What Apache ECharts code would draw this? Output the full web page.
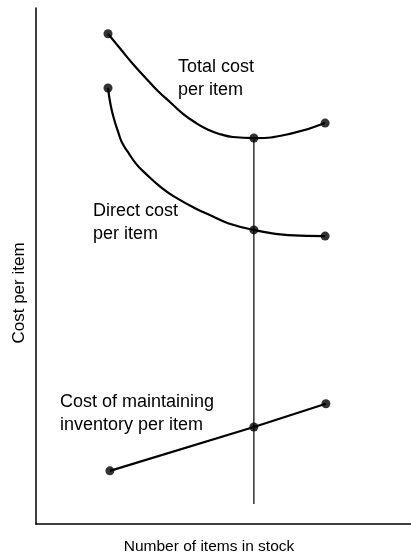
<!DOCTYPE html>
<html>
<head>
<meta charset="utf-8">
<style>
  html, body { margin: 0; padding: 0; background: #fff; }
  #chart { width: 411px; height: 554px; }
</style>
<script src="https://cdn.jsdelivr.net/npm/echarts@6/dist/echarts.min.js"></script>
</head>
<body>
<div id="chart"></div>
<script>
// Stock level (arbitrary units) and cost per item (arbitrary units)
const totalCost = [
  [19.2, 95.0], [22.7, 91.9], [25.9, 89.1], [29.3, 86.4], [32.5, 83.9],
  [36.0, 81.6], [39.2, 79.5], [42.7, 77.7], [45.9, 76.4], [49.3, 75.5],
  [52.5, 75.0], [58.1, 74.8], [67.7, 75.6], [77.1, 77.7]
];
const directCost = [
  [19.2, 84.5], [19.9, 81.2], [20.8, 78.5], [21.9, 76.0], [22.9, 74.0],
  [24.5, 72.1], [26.7, 69.8], [29.1, 68.0], [33.6, 65.1], [37.9, 63.0],
  [42.4, 61.2], [46.9, 59.7], [51.2, 58.3], [58.1, 57.0], [67.2, 56.0], [77.1, 55.8]
];
const inventoryCost = [[19.7, 10.3], [58.1, 18.8], [77.3, 23.3]];

// Marked points on each curve
const totalDots = [[19.2, 95.0], [58.1, 74.8], [77.1, 77.7]];
const directDots = [[19.2, 84.5], [58.1, 57.0], [77.1, 55.8]];
const inventoryDots = [[19.7, 10.3], [58.1, 18.8], [77.3, 23.3]];

// Optimum stock level guide
const optimumLine = [[58.1, 3.9], [58.1, 74.8]];

const curveLabels = ['Total cost\nper item', 'Direct cost\nper item', 'Cost of maintaining\ninventory per item'];
const xTitle = 'Number of items in stock';
const yTitle = 'Cost per item';

const FONT = '"Liberation Sans", Arial, sans-serif';
const INK = '#000';

const chart = echarts.init(document.getElementById('chart'), null, { renderer: 'canvas' });

function curve(data, width, smooth) {
  return {
    type: 'line', data: data, smooth: smooth, showSymbol: false, silent: true,
    lineStyle: { color: INK, width: width }, animation: false, z: 2
  };
}
function dots(data) {
  return {
    type: 'scatter', data: data, symbol: 'circle', symbolSize: 9, silent: true,
    itemStyle: { color: INK }, animation: false, z: 3
  };
}
function label(text, x, y) {
  return {
    type: 'text', x: x, y: y, silent: true,
    style: { text: text, font: '18px ' + FONT, fill: INK, lineHeight: 23, textVerticalAlign: 'top' }
  };
}

chart.setOption({
  backgroundColor: '#fff',
  animation: false,
  grid: { left: 36, right: 0, top: 8, bottom: 30 },
  xAxis: {
    type: 'value', min: 0, max: 100,
    axisLine: { show: true, onZero: false, lineStyle: { color: INK, width: 1.5 } },
    axisTick: { show: false }, axisLabel: { show: false }, splitLine: { show: false }
  },
  yAxis: {
    type: 'value', min: 0, max: 100,
    axisLine: { show: true, onZero: false, lineStyle: { color: INK, width: 1.5 } },
    axisTick: { show: false }, axisLabel: { show: false }, splitLine: { show: false }
  },
  series: [
    curve(optimumLine, 1.2, false),
    curve(totalCost, 2.2, 0.5),
    curve(directCost, 2.2, 0.5),
    curve(inventoryCost, 2.2, false),
    dots(totalDots),
    dots(directDots),
    dots(inventoryDots)
  ],
  graphic: [
    label(curveLabels[0], 178, 56),
    label(curveLabels[1], 93, 200),
    label(curveLabels[2], 60, 391),
    {
      type: 'text', x: 209, y: 547, silent: true,
      style: { text: xTitle, font: '15.5px ' + FONT, fill: INK, textAlign: 'center', textVerticalAlign: 'middle' }
    },
    {
      type: 'text', x: 19, y: 293, rotation: Math.PI / 2, silent: true,
      style: { text: yTitle, font: '17px ' + FONT, fill: INK, textAlign: 'center', textVerticalAlign: 'middle' }
    }
  ]
});
</script>
</body>
</html>
